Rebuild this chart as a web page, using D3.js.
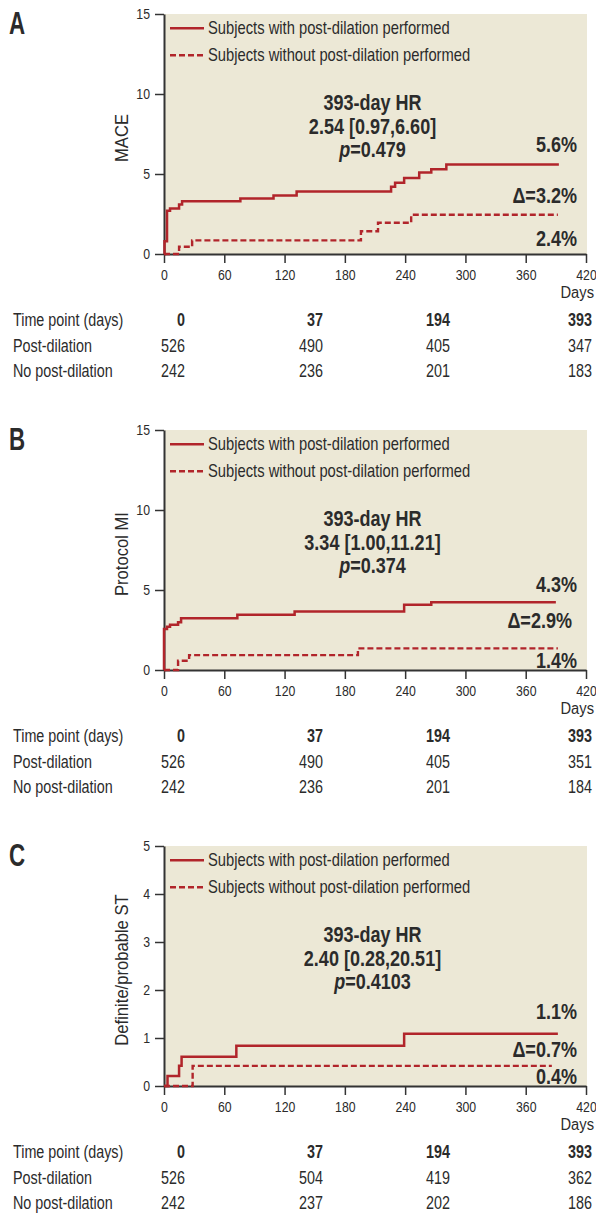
<!DOCTYPE html>
<html><head><meta charset="utf-8">
<script src="https://cdn.jsdelivr.net/npm/d3@7"></script>
<style>
body{margin:0;background:#fff}
svg{display:block}
text{font-family:"Liberation Sans",Arial,sans-serif;fill:#2b2b2b}
</style>
</head><body><svg id="c" width="596" height="1216"></svg>
<script>
// ---------- data ----------
const panelLetters = ["A", "B", "C"];
const yTitles = ["MACE", "Protocol MI", "Definite/probable ST"];
const yMaxes = [15, 15, 5];
const yTicksA = [0, 5, 10, 15];
const yTicksB = [0, 5, 10, 15];
const yTicksC = [0, 1, 2, 3, 4, 5];
const xTicks = [0, 60, 120, 180, 240, 300, 360, 420];
const legendLabels = ["Subjects with post-dilation performed", "Subjects without post-dilation performed"];

// Panel A: MACE (%)
const maceWithDays    = [0, 0.5, 3, 6, 15, 18, 76, 109, 132, 226, 230, 239, 254, 266, 281, 393];
const maceWithVals    = [0, 0.8, 2.7, 2.85, 3.1, 3.3, 3.47, 3.65, 3.9, 4.2, 4.45, 4.75, 5.1, 5.3, 5.6, 5.6];
const maceWithoutDays = [0, 15, 28, 196, 213, 246, 392];
const maceWithoutVals = [0, 0.45, 0.85, 1.42, 1.95, 2.45, 2.45];
// Panel B: Protocol MI (%)
const miWithDays    = [0, 0.01, 3, 6, 14, 17, 73, 130, 239, 266, 390];
const miWithVals    = [0, 2.56, 2.7, 2.83, 2.98, 3.23, 3.46, 3.66, 4.08, 4.23, 4.23];
const miWithoutDays = [0, 14, 25, 193, 392];
const miWithoutVals = [0, 0.58, 0.93, 1.35, 1.35];
// Panel C: Definite/probable ST (%)
const stWithDays    = [0, 3.5, 15, 17.5, 72, 239, 392];
const stWithVals    = [0, 0.21, 0.42, 0.61, 0.84, 1.09, 1.09];
const stWithoutDays = [0, 28.5, 386];
const stWithoutVals = [0, 0.42, 0.42];

const hrTitles = ["393-day HR", "393-day HR", "393-day HR"];
const hrValues = ["2.54 [0.97,6.60]", "3.34 [1.00,11.21]", "2.40 [0.28,20.51]"];
const pValues  = ["0.479", "0.374", "0.4103"];
const withPct    = ["5.6%", "4.3%", "1.1%"];
const deltaPct   = ["Δ=3.2%", "Δ=2.9%", "Δ=0.7%"];
const withoutPct = ["2.4%", "1.4%", "0.4%"];

const tableRowLabels = ["Time point (days)", "Post-dilation", "No post-dilation"];
const timePoints = [0, 37, 194, 393];
const atRiskPostA = [526, 490, 405, 347];
const atRiskNoA   = [242, 236, 201, 183];
const atRiskPostB = [526, 490, 405, 351];
const atRiskNoB   = [242, 236, 201, 184];
const atRiskPostC = [526, 504, 419, 362];
const atRiskNoC   = [242, 237, 202, 186];

// ---------- layout (not data) ----------
const RED = "#b1252b", AX = "#333", DARK = "#231f20";
const SX = 0.82; // horizontal condensing to mimic a narrow typeface
const svg = d3.select("#c");
const x = d3.scaleLinear().domain([0, 420]).range([164, 586]);
const colX = d3.scaleOrdinal().domain(timePoints).range([185, 323, 450, 592]);
const pctOffsets = [[137.7, 188.7, 232], [161.7, 198.3, 237.7], [173.3, 211, 237.6]];
const deltaRight = [577, 572, 577];

function T(parent, px, py, s, o = {}) {
  const t = parent.append("text")
    .attr("transform", `translate(${px},${py}) scale(${o.sx ?? SX},1)`)
    .attr("font-size", o.size ?? 17)
    .attr("text-anchor", o.anchor ?? "start");
  if (o.weight) t.attr("font-weight", o.weight);
  if (o.fill) t.attr("fill", o.fill);
  if (s !== null) t.text(s);
  return t;
}

const panels = [
  {yTicks: yTicksA, w: [maceWithDays, maceWithVals], wo: [maceWithoutDays, maceWithoutVals], post: atRiskPostA, no: atRiskNoA},
  {yTicks: yTicksB, w: [miWithDays, miWithVals], wo: [miWithoutDays, miWithoutVals], post: atRiskPostB, no: atRiskNoB},
  {yTicks: yTicksC, w: [stWithDays, stWithVals], wo: [stWithoutDays, stWithoutVals], post: atRiskPostC, no: atRiskNoC}
];

panels.forEach((p, i) => {
  const top = 14 + 416 * i, bottom = top + 240;
  const y = d3.scaleLinear().domain([0, yMaxes[i]]).range([bottom, top]);
  const g = svg.append("g");

  g.append("rect").attr("x", x(0)).attr("y", top).attr("width", 587 - x(0)).attr("height", bottom - top).attr("fill", "#ece8d6");

  // axes
  const ya = g.append("g").attr("transform", `translate(${x(0)},0)`)
    .call(d3.axisLeft(y).tickValues(p.yTicks).tickFormat(d3.format("d")).tickSize(9).tickPadding(5).tickSizeOuter(0));
  const xa = g.append("g").attr("transform", `translate(0,${bottom})`)
    .call(d3.axisBottom(x).tickValues(xTicks).tickFormat(d3.format("d")).tickSize(9).tickPadding(6).tickSizeOuter(0));
  [ya, xa].forEach(a => {
    a.select(".domain").attr("stroke", AX).attr("stroke-width", 2);
    a.selectAll(".tick line").attr("stroke", AX).attr("stroke-width", 1.5);
    a.selectAll(".tick text").attr("font-size", 15).attr("fill", "#333")
      .style("font-family", '"Liberation Sans",Arial,sans-serif');
  });
  ya.selectAll(".tick text").attr("x", -14 / SX).attr("transform", `scale(${SX},1)`);
  xa.selectAll(".tick text").attr("transform", `scale(${SX},1)`);

  T(g, 594, bottom + 44, "Days", {size: 16, anchor: "end", sx: 0.92});

  // y title
  g.append("text").attr("transform", `translate(128,${top + 124}) rotate(-90) scale(0.95,1)`).attr("text-anchor", "middle")
    .attr("font-size", 17.5).text(yTitles[i]);

  // panel letter
  T(g, 9, top + 20, panelLetters[i], {size: 31, weight: "bold", sx: 0.72, fill: "#1a1a1a"});

  // legend
  [0, 1].forEach(k => {
    const ly = top + 14.3 + 26.9 * k;
    g.append("line").attr("x1", 170).attr("x2", 204).attr("y1", ly).attr("y2", ly)
      .attr("stroke", RED).attr("stroke-width", 2.5).attr("stroke-dasharray", k ? "6,3" : null);
    T(g, 208, ly + 6, legendLabels[k], {size: 18, fill: "#333"});
  });

  // HR block
  T(g, 372.5, top + 96, hrTitles[i], {size: 22, weight: "bold", anchor: "middle", fill: DARK});
  T(g, 372.5, top + 120, hrValues[i], {size: 22, weight: "bold", anchor: "middle", fill: DARK});
  const pl = T(g, 372.5, top + 143, null, {size: 22, weight: "bold", anchor: "middle", fill: DARK});
  pl.append("tspan").attr("font-style", "italic").text("p");
  pl.append("tspan").text("=" + pValues[i]);

  // percent labels
  [[withPct[i], 577], [deltaPct[i], deltaRight[i]], [withoutPct[i], 577]].forEach((d, k) => {
    T(g, d[1], top + pctOffsets[i][k], d[0], {size: 22, weight: "bold", anchor: "end", fill: DARK});
  });

  // KM step curves
  const line = d3.line().curve(d3.curveStepAfter).x(d => x(d[0])).y(d => y(d[1]));
  const zipA = d3.zip(p.w[0], p.w[1]);
  const zipB = d3.zip(p.wo[0], p.wo[1]);
  g.append("path").datum(zipB).attr("d", line).attr("fill", "none").attr("stroke", RED)
    .attr("stroke-width", 2.4).attr("stroke-dasharray", "6,3");
  g.append("path").datum(zipA).attr("d", line).attr("fill", "none").attr("stroke", RED)
    .attr("stroke-width", 2.5);

  // at-risk table
  const rows = [timePoints, p.post, p.no];
  rows.forEach((r, k) => {
    const ry = bottom + 72 + 25.5 * k;
    T(g, 13, ry, tableRowLabels[k], {size: 17.5, fill: "#333"});
    r.forEach((v, j) => {
      T(g, colX(timePoints[j]), ry, String(v), {size: 17.5, anchor: "end",
        weight: k === 0 ? "bold" : null, fill: k === 0 ? "#1a1a1a" : "#333"});
    });
  });
});
</script>
</body></html>
